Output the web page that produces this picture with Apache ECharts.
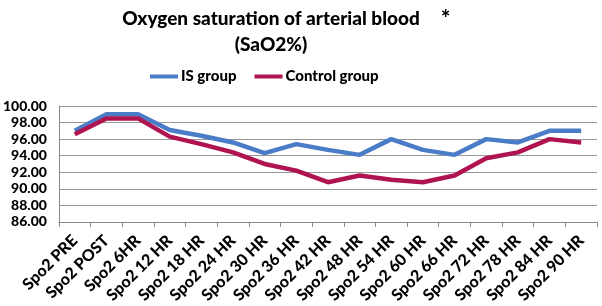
<!DOCTYPE html>
<html><head><meta charset="utf-8">
<script src="https://cdn.jsdelivr.net/npm/echarts@6/dist/echarts.min.js"></script>
<style>html,body{margin:0;padding:0;background:#fff}#c{width:602px;height:306px}</style>
</head><body><div id="c"></div>
<script>
const categories = ["Spo2 PRE","Spo2 POST","Spo2 6HR","Spo2 12 HR","Spo2 18 HR","Spo2 24 HR","Spo2 30 HR","Spo2 36 HR","Spo2 42 HR","Spo2 48 HR","Spo2 54 HR","Spo2 60 HR","Spo2 66 HR","Spo2 72 HR","Spo2 78 HR","Spo2 84 HR","Spo2 90 HR"];
const isGroup = [97.0, 99.0, 99.0, 97.1, 96.4, 95.6, 94.3, 95.4, 94.7, 94.1, 96.0, 94.7, 94.1, 96.0, 95.6, 97.0, 97.0];
const controlGroup = [96.6, 98.5, 98.5, 96.3, 95.4, 94.4, 93.0, 92.2, 90.8, 91.6, 91.1, 90.8, 91.6, 93.7, 94.4, 96.0, 95.6];
const yTicks = {min: 86, max: 100, interval: 2};
const FONT = "Lato";
const chart = echarts.init(document.getElementById('c'));
chart.setOption({
  animation: false,
  title: {
    text: "Oxygen saturation of arterial blood\n(SaO2%)",
    left: 266, top: 1, textAlign: 'center',
    textStyle: {fontFamily: FONT, fontWeight: 900, fontSize: 19, color: '#000', lineHeight: 26}
  },
  graphic: [{type: 'text', left: 441, top: 8, style: {text: '*', font: '900 22px ' + FONT, fill: '#000'}}],
  legend: {
    top: 64, left: 145,
    itemWidth: 28, itemHeight: 4, itemGap: 18,
    icon: 'rect',
    textStyle: {fontFamily: FONT, fontWeight: 900, fontSize: 15, color: '#000', padding: [0, 0, 0, -2]},
    data: ['IS group', 'Control group']
  },
  grid: {left: 58, right: 5, top: 106, bottom: 80},
  xAxis: {
    type: 'category', data: categories, boundaryGap: true,
    axisLine: {lineStyle: {color: '#888'}},
    axisTick: {show: true, length: 5, lineStyle: {color: '#888'}},
    axisLabel: {rotate: 45, interval: 0, fontFamily: FONT, fontWeight: 900, fontSize: 16, color: '#000', margin: 16}
  },
  yAxis: {
    type: 'value', min: yTicks.min, max: yTicks.max, interval: yTicks.interval,
    axisLine: {show: true, lineStyle: {color: '#888'}},
    axisTick: {show: false},
    splitLine: {lineStyle: {color: '#999', width: 1}},
    axisLabel: {fontFamily: FONT, fontWeight: 900, fontSize: 14, color: '#000', margin: 12,
      formatter: v => v.toFixed(2)}
  },
  series: [
    {name: 'IS group', type: 'line', data: isGroup, symbol: 'none', lineStyle: {width: 4.5, color: '#4a7cc8'}, itemStyle: {color: '#4a7cc8'}},
    {name: 'Control group', type: 'line', data: controlGroup, symbol: 'none', lineStyle: {width: 4.5, color: '#b01450'}, itemStyle: {color: '#b01450'}}
  ]
});
</script></body></html>
